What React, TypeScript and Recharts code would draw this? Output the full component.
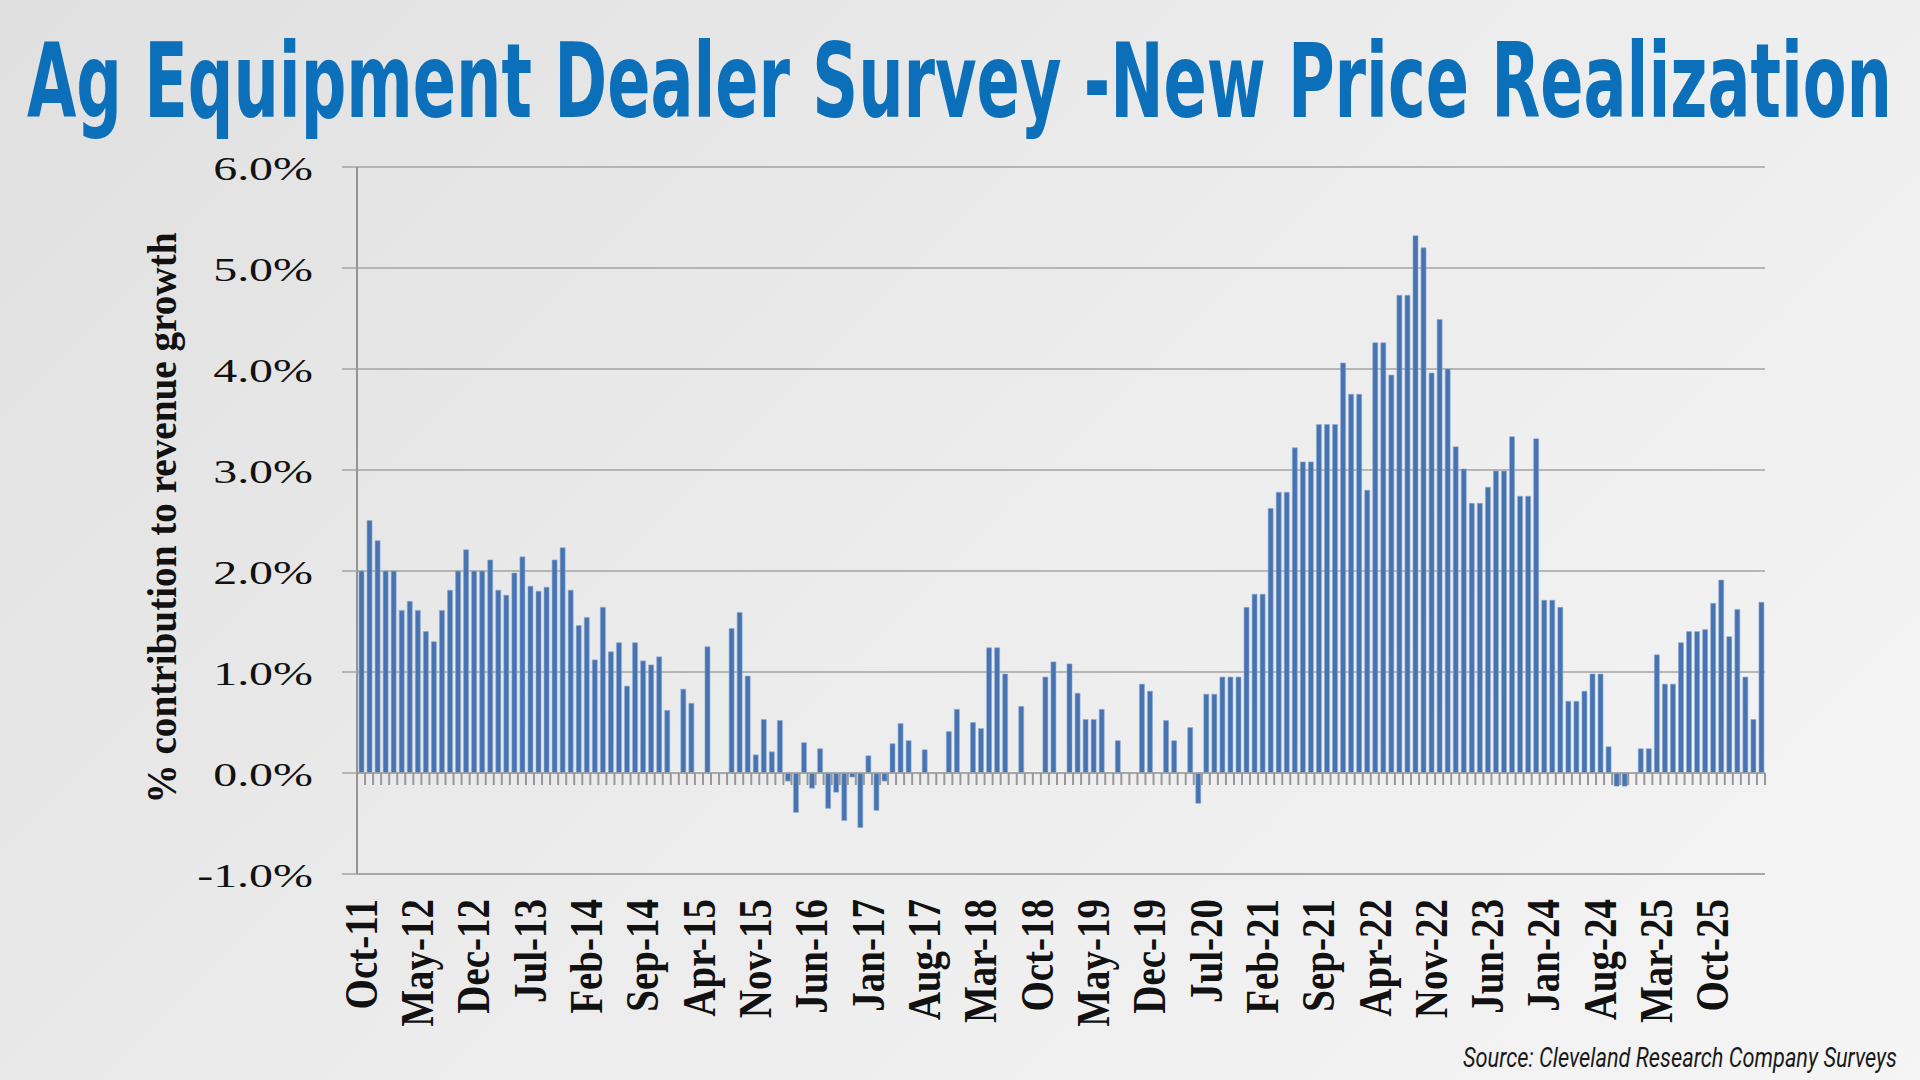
import React from 'react';
import { BarChart, Bar, XAxis, YAxis, CartesianGrid, ReferenceLine } from 'recharts';

const MONTHS = ['Jan', 'Feb', 'Mar', 'Apr', 'May', 'Jun', 'Jul', 'Aug', 'Sep', 'Oct', 'Nov', 'Dec'];

// new price realization, % contribution to revenue growth, one array per year
// (2011 starts in Oct, 2026 ends in Apr)
const Y2011 = [2.0, 2.5, 2.3];
const Y2012 = [2.0, 2.0, 1.61, 1.7, 1.61, 1.4, 1.3, 1.61, 1.81, 2.0, 2.21, 2.0];
const Y2013 = [2.0, 2.11, 1.81, 1.76, 1.98, 2.14, 1.85, 1.8, 1.84, 2.11, 2.23, 1.81];
const Y2014 = [1.46, 1.54, 1.12, 1.64, 1.2, 1.29, 0.86, 1.29, 1.11, 1.07, 1.15, 0.62];
const Y2015 = [0, 0.83, 0.69, 0, 1.25, 0, 0, 1.43, 1.59, 0.96, 0.18, 0.53];
const Y2016 = [0.21, 0.52, -0.08, -0.39, 0.3, -0.15, 0.24, -0.35, -0.19, -0.47, -0.04, -0.54];
const Y2017 = [0.17, -0.37, -0.08, 0.29, 0.49, 0.32, 0, 0.23, 0, 0, 0.41, 0.63];
const Y2018 = [0, 0.5, 0.44, 1.24, 1.24, 0.98, 0, 0.66, 0, 0, 0.95, 1.1];
const Y2019 = [0, 1.08, 0.79, 0.53, 0.53, 0.63, 0, 0.32, 0, 0, 0.88, 0.81];
const Y2020 = [0, 0.52, 0.32, 0, 0.45, -0.3, 0.78, 0.78, 0.95, 0.95, 0.95, 1.64];
const Y2021 = [1.77, 1.77, 2.62, 2.78, 2.78, 3.22, 3.08, 3.08, 3.45, 3.45, 3.45, 4.06];
const Y2022 = [3.75, 3.75, 2.8, 4.26, 4.26, 3.94, 4.73, 4.73, 5.32, 5.2, 3.96, 4.49];
const Y2023 = [4.0, 3.23, 3.01, 2.67, 2.67, 2.83, 2.99, 2.99, 3.33, 2.74, 2.74, 3.31];
const Y2024 = [1.71, 1.71, 1.64, 0.71, 0.71, 0.81, 0.98, 0.98, 0.26, -0.13, -0.13, 0];
const Y2025 = [0.24, 0.24, 1.17, 0.88, 0.88, 1.29, 1.4, 1.4, 1.42, 1.68, 1.91, 1.35];
const Y2026 = [1.62, 0.95, 0.53, 1.69];

const YEARS = [
  { year: 2011, firstMonth: 9, values: Y2011 },
  { year: 2012, firstMonth: 0, values: Y2012 },
  { year: 2013, firstMonth: 0, values: Y2013 },
  { year: 2014, firstMonth: 0, values: Y2014 },
  { year: 2015, firstMonth: 0, values: Y2015 },
  { year: 2016, firstMonth: 0, values: Y2016 },
  { year: 2017, firstMonth: 0, values: Y2017 },
  { year: 2018, firstMonth: 0, values: Y2018 },
  { year: 2019, firstMonth: 0, values: Y2019 },
  { year: 2020, firstMonth: 0, values: Y2020 },
  { year: 2021, firstMonth: 0, values: Y2021 },
  { year: 2022, firstMonth: 0, values: Y2022 },
  { year: 2023, firstMonth: 0, values: Y2023 },
  { year: 2024, firstMonth: 0, values: Y2024 },
  { year: 2025, firstMonth: 0, values: Y2025 },
  { year: 2026, firstMonth: 0, values: Y2026 },
];

const TICK_LABELS = [
  'Oct-11', 'May-12', 'Dec-12', 'Jul-13', 'Feb-14', 'Sep-14', 'Apr-15', 'Nov-15', 'Jun-16',
  'Jan-17', 'Aug-17', 'Mar-18', 'Oct-18', 'May-19', 'Dec-19', 'Jul-20', 'Feb-21', 'Sep-21',
  'Apr-22', 'Nov-22', 'Jun-23', 'Jan-24', 'Aug-24', 'Mar-25', 'Oct-25',
];

const Y_TICKS = [-1, 0, 1, 2, 3, 4, 5, 6];

const data = YEARS.flatMap(({ year, firstMonth, values }) =>
  values.map((value, i) => ({
    month: `${MONTHS[firstMonth + i]}-${String(year).slice(2)}`,
    value,
  }))
);

const GRID = '#a3a3a3';
const SERIF = "'Liberation Serif', 'Times New Roman', serif";

const YTick = ({ x, y, payload }: any) => (
  <text
    transform={`translate(${x},${y + 2}) scale(1.41,1)`}
    textAnchor="end"
    dominantBaseline="central"
    fontSize={34}
    fontFamily={SERIF}
    fill="#111"
  >
    {payload.value.toFixed(1)}%
  </text>
);

const XTick = ({ x, y, payload }: any) => (
  <text
    transform={`translate(${x},${y}) scale(1.2,1) rotate(-90)`}
    textAnchor="end"
    dominantBaseline="central"
    fontSize={39}
    fontWeight="bold"
    fontFamily={SERIF}
    fill="#111"
  >
    {payload.value}
  </text>
);

// zero line with a small tick at every category boundary (Excel style)
const ZeroAxis = (props: any) => {
  const { x1, x2, y1 } = props;
  const step = (x2 - x1) / data.length;
  return (
    <g>
      <line x1={x1} x2={x2} y1={y1} y2={y1} stroke={GRID} strokeWidth={1.5} />
      {data.map((d, i) => (
        <line
          key={d.month}
          x1={x1 + step * (i + 1)}
          x2={x1 + step * (i + 1)}
          y1={y1}
          y2={y1 + 12}
          stroke="#989898"
          strokeWidth={2}
        />
      ))}
    </g>
  );
};

export default function App() {
  return (
    <div
      style={{
        position: 'absolute',
        left: 0,
        top: 0,
        width: 1920,
        height: 1080,
        overflow: 'hidden',
        background: 'linear-gradient(135deg, #e0e0e0 0%, #ececec 50%, #f5f5f5 100%)',
      }}
    >
      <BarChart
        width={1920}
        height={1080}
        data={data}
        margin={{ top: 167, right: 155, bottom: 0, left: 0 }}
        barSize={5}
      >
        <CartesianGrid horizontal vertical={false} stroke={GRID} strokeWidth={1.5} />
        <XAxis
          dataKey="month"
          type="category"
          ticks={TICK_LABELS}
          interval={0}
          height={206}
          tickLine={false}
          tickSize={0}
          tickMargin={25}
          axisLine={{ stroke: GRID, strokeWidth: 1.5 }}
          tick={<XTick />}
        />
        <YAxis
          domain={[-1, 6]}
          ticks={Y_TICKS}
          interval={0}
          width={357}
          tickSize={15}
          tickMargin={29}
          tickLine={{ stroke: GRID, strokeWidth: 1.5 }}
          axisLine={{ stroke: '#949494', strokeWidth: 2 }}
          tick={<YTick />}
        />
        <ReferenceLine y={0} shape={ZeroAxis} />
        <Bar
          dataKey="value"
          fill="#4674b3"
          stroke="#8eaad2"
          strokeWidth={0.6}
          isAnimationActive={false}
        />
      </BarChart>
      <svg
        width={1920}
        height={1080}
        style={{ position: 'absolute', left: 0, top: 0, pointerEvents: 'none' }}
      >
        <text
          x={27}
          y={117}
          fontSize={104}
          fontWeight="bold"
          fontFamily="'DejaVu Sans Condensed', 'DejaVu Sans', sans-serif"
          fill="#0b6fba"
          textLength={1865}
          lengthAdjust="spacingAndGlyphs"
        >
          Ag Equipment Dealer Survey -New Price Realization
        </text>
        <text
          transform="translate(162,518) scale(1.15,1) rotate(-90)"
          textAnchor="middle"
          dominantBaseline="central"
          fontSize={36}
          fontWeight="bold"
          fontFamily={SERIF}
          fill="#111"
          textLength={571}
          lengthAdjust="spacingAndGlyphs"
        >
          % contribution to revenue growth
        </text>
        <text
          x={1463}
          y={1067}
          fontSize={27}
          fontStyle="italic"
          fontFamily="Roboto, 'Noto Sans', sans-serif"
          fill="#1a1a1a"
          textLength={434}
          lengthAdjust="spacingAndGlyphs"
        >
          Source: Cleveland Research Company Surveys
        </text>
      </svg>
    </div>
  );
}
